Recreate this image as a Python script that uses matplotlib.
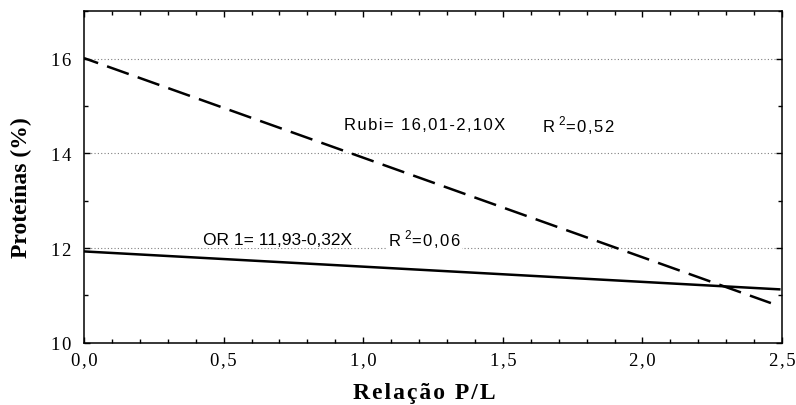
import matplotlib
matplotlib.use("Agg")
import matplotlib.pyplot as plt
from matplotlib.ticker import MultipleLocator, FuncFormatter

# regression lines, endpoints
rubi_x = [0.0, 2.46]
rubi_y = [16.01, 10.84]
or1_x = [0.0, 2.49]
or1_y = [11.93, 11.13]

rubi_eq = "Rubi= 16,01-2,10X"
rubi_r2 = "0,52"
or1_eq = "OR 1= 11,93-0,32X"
or1_r2 = "0,06"

plt.rcParams["mathtext.fontset"] = "custom"
plt.rcParams["mathtext.rm"] = "Liberation Sans"

fig = plt.figure(figsize=(7.96, 4.06), dpi=100)
ax = fig.add_axes([0.1055, 0.153, 0.877, 0.817])

ax.plot(rubi_x, rubi_y, color="black", lw=1.8, linestyle=(3.2, (9.2, 3.8)))
ax.plot(or1_x, or1_y, color="black", lw=1.8)

ax.set_xlim(0, 2.5)
ax.set_ylim(10, 17)
ax.xaxis.set_major_locator(MultipleLocator(0.5))
ax.xaxis.set_minor_locator(MultipleLocator(0.1))
ax.yaxis.set_major_locator(MultipleLocator(2))
ax.yaxis.set_minor_locator(MultipleLocator(1))
hs = "\u200a"
ax.xaxis.set_major_formatter(FuncFormatter(lambda v, p: hs.join(f"{v:.1f}".replace(".", ","))))
ax.yaxis.set_major_formatter(FuncFormatter(lambda v, p: hs.join(f"{v:.0f}")))

ax.tick_params(which="both", direction="in", top=True, right=True, width=1)
ax.tick_params(which="major", length=4, labelsize=13.5)
ax.tick_params(axis="x", which="major", pad=6)
ax.tick_params(axis="y", which="major", pad=9)
ax.tick_params(which="minor", length=3)
for lab in ax.get_xticklabels() + ax.get_yticklabels():
    lab.set_fontfamily("Liberation Serif")

for gy in [12, 14, 16]:
    ax.axhline(gy, color="gray", lw=0.8, linestyle=(0, (1, 2)), zorder=0)

for s in ax.spines.values():
    s.set_linewidth(1.1)

txt = dict(fontsize=12, family="Liberation Sans", va="center", ha="left",
           bbox=dict(facecolor="white", edgecolor="none", pad=1))
ax.text(0.93, 14.61, hs.join(rubi_eq), **txt)
ax.text(1.64, 14.61, "R $^{2}$" + hs.join("=" + rubi_r2), **txt)
ax.text(0.427, 12.19, or1_eq, **{**txt, "fontsize": 12.5})
ax.text(1.089, 12.19, "R $^{2}$" + hs.join("=" + or1_r2), **txt)

ax.set_xlabel(hs.join("Relação P/L"), fontsize=17, fontweight="bold",
              family="Liberation Serif")
ax.xaxis.set_label_coords(0.488, -0.117)
ax.set_ylabel("Proteínas (%)", fontsize=17, fontweight="bold",
              family="Liberation Serif")
ax.yaxis.set_label_coords(-0.0745, 0.47)

fig.savefig("out.png", dpi=100)
